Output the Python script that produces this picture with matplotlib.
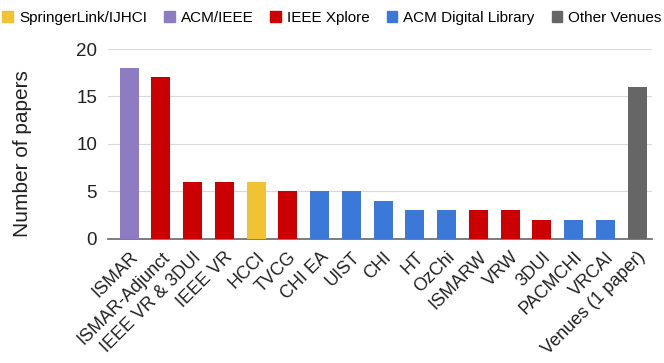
import numpy as np
import matplotlib.pyplot as plt
from matplotlib.patches import Patch

venues = ["ISMAR", "ISMAR-Adjunct", "IEEE VR & 3DUI", "IEEE VR", "HCCI", "TVCG",
          "CHI EA", "UIST", "CHI", "HT", "OzChi", "ISMARW", "VRW", "3DUI",
          "PACMCHI", "VRCAI", "Venues (1 paper)"]
papers = [18, 17, 6, 6, 6, 5, 5, 5, 4, 3, 3, 3, 3, 2, 2, 2, 16]
sources = ["ACM/IEEE", "IEEE Xplore", "IEEE Xplore", "IEEE Xplore", "SpringerLink/IJHCI",
           "IEEE Xplore", "ACM Digital Library", "ACM Digital Library", "ACM Digital Library",
           "ACM Digital Library", "ACM Digital Library", "IEEE Xplore", "IEEE Xplore",
           "IEEE Xplore", "ACM Digital Library", "ACM Digital Library", "Other Venues"]
legend_order = ["SpringerLink/IJHCI", "ACM/IEEE", "IEEE Xplore", "ACM Digital Library", "Other Venues"]
palette = {"SpringerLink/IJHCI": "#f1c232", "ACM/IEEE": "#8e7cc3", "IEEE Xplore": "#cc0000",
           "ACM Digital Library": "#3c78d8", "Other Venues": "#666666"}

plt.rcParams["font.family"] = ["Liberation Sans", "DejaVu Sans"]

fig = plt.figure(figsize=(6.64, 3.63), dpi=100)
ax = fig.add_axes([0.163, 0.342, 0.819, 0.523])

x = np.arange(len(venues))
ax.bar(x, papers, width=0.6, color=[palette[s] for s in sources], zorder=3)

ax.set_xlim(-0.66, 16.47)
ax.set_ylim(0, 20)
ax.set_yticks([0, 5, 10, 15, 20])
ax.grid(axis="y", color="#d9d9d9", linewidth=0.8, zorder=0)
for side in ["top", "right", "left"]:
    ax.spines[side].set_visible(False)
ax.spines["bottom"].set_color("#666666")
ax.spines["bottom"].set_linewidth(1.2)
ax.tick_params(axis="y", length=0, labelsize=13.5, pad=8, colors="#222222")
ax.tick_params(axis="x", length=0, labelsize=13, pad=7, colors="#222222")
ax.set_xticks(x)
ax.set_xticklabels(venues, rotation=45, ha="right", rotation_mode="anchor")
ax.set_ylabel("Number of papers", fontsize=15, labelpad=30, color="#222222")
ax.yaxis.set_label_coords(-0.14, 0.45)

handles = [Patch(color=palette[s], label=s) for s in legend_order]
fig.legend(handles=handles, loc="upper center", bbox_to_anchor=(0.5, 1.0), ncol=5,
           frameon=False, fontsize=11, handlelength=0.7, handleheight=0.7,
           handletextpad=0.4, columnspacing=1.1, borderaxespad=0.3)

fig.savefig("out.png", dpi=100)
